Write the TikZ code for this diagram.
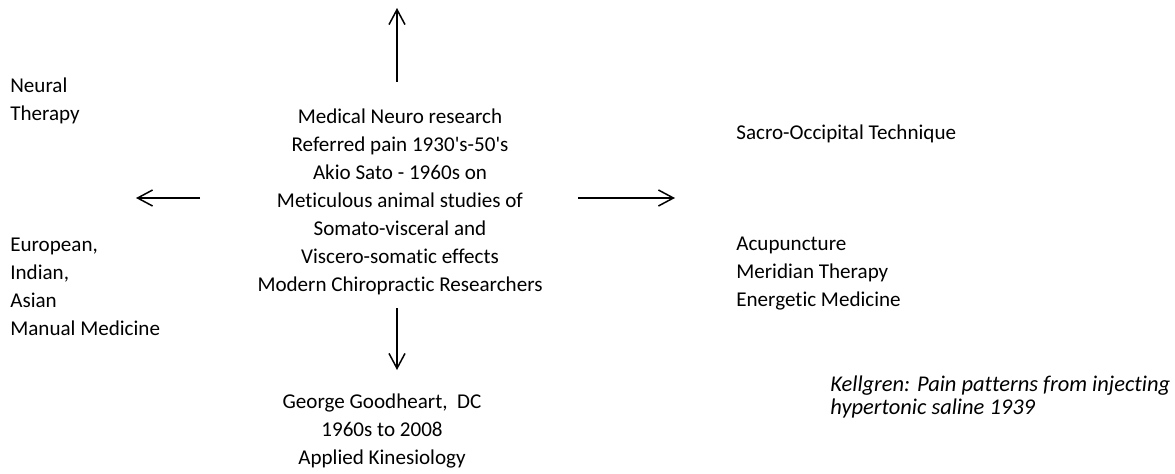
\documentclass[tikz,border=0pt]{standalone}
\usepackage{fontspec}
\setmainfont{Carlito}[Ligatures={TeX,NoCommon}]
\usetikzlibrary{arrows.meta}
\tikzset{
  flow/.style={line width=0.85pt,-{Straight Barb[length=0.3cm,width=0.32cm]}},
  txt/.style={inner sep=0pt,font=\fontsize{12}{15.9}\selectfont},
}
\begin{document}
\begin{tikzpicture}[x=0.02cm,y=-0.02cm]
\useasboundingbox (0,0) rectangle (1175,473);
% Sources around the central research block
\node[txt,align=center] (neuro) at (400,202) {Medical Neuro research\\ Referred pain 1930\textquotesingle s-50\textquotesingle s\\ Akio Sato - 1960s on\\ Meticulous animal studies of\\ Somato-visceral and\\ Viscero-somatic effects\\ Modern Chiropractic Researchers};
\node[txt,align=left,anchor=west] (neural) at (10,101) {Neural\\ Therapy};
\node[txt,align=left,anchor=west] (manual) at (10,287) {European,\\ Indian,\\ Asian\\ Manual Medicine};
\node[txt,anchor=west] (sot) at (736,134) {Sacro-Occipital Technique};
\node[txt,align=left,anchor=west] (acu) at (736,273.5) {Acupuncture\\ Meridian Therapy\\ Energetic Medicine};
\node[txt,align=center] (ak) at (382,431) {George Goodheart,\ \ DC\\ 1960s to 2008\\ Applied Kinesiology};
\node[txt,align=left,anchor=west,font=\fontsize{12.8}{12.8}\selectfont\itshape] (kell) at (830,397) {Kellgren: Pain patterns from injecting\\ hypertonic saline 1939};
% arrow ends
\coordinate (upA) at (397,82);
\coordinate (upB) at (397,8);
\coordinate (dnA) at (397,308);
\coordinate (dnB) at (397,370);
\coordinate (ltA) at (200,198);
\coordinate (ltB) at (136,198);
\coordinate (rtA) at (578,198);
\coordinate (rtB) at (675,198);
\draw[flow] (upA) -- (upB);
\draw[flow] (dnA) -- (dnB);
\draw[flow] (ltA) -- (ltB);
\draw[flow] (rtA) -- (rtB);
\end{tikzpicture}
\end{document}
